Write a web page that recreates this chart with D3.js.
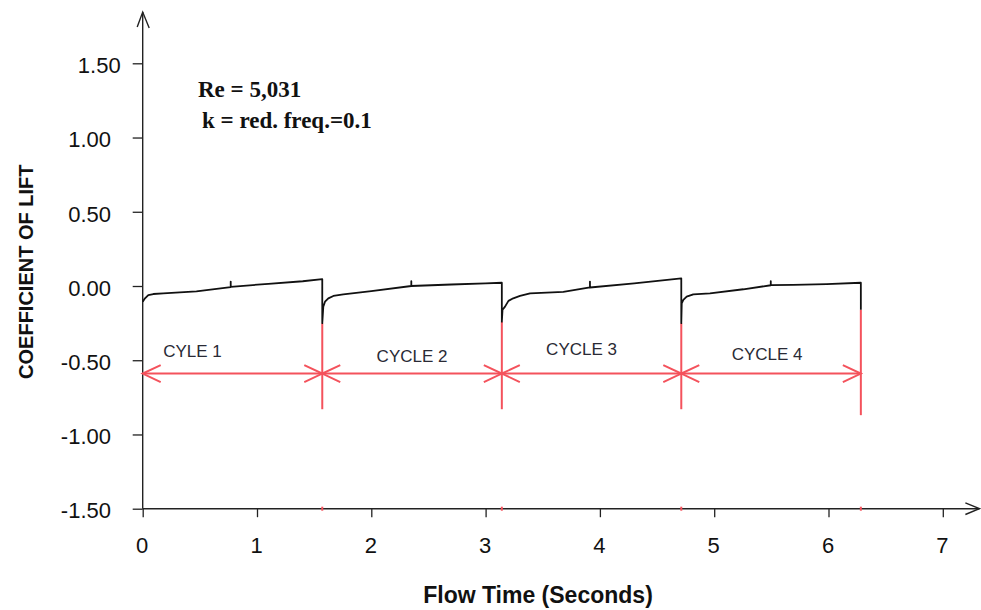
<!DOCTYPE html>
<html>
<head>
<meta charset="utf-8">
<script src="https://cdn.jsdelivr.net/npm/d3@7"></script>
<style>
  body { margin: 0; background: #fff; }
  svg { display: block; font-family: "Liberation Sans", Arial, sans-serif; }
</style>
</head>
<body>
<div id="chart"></div>
<script>
// values
var xTicks = [0, 1, 2, 3, 4, 5, 6, 7];
var xMinor = d3.range(0, 7.01, 0.25);
var yTicks = [-1.5, -1.0, -0.5, 0.0, 0.5, 1.0, 1.5];
var yMinor = d3.range(-1.5, 1.51, 0.25);

var cycleBounds = [0, 1.571, 3.142, 4.712, 6.283];
var cycleLabels = ["CYLE 1", "CYCLE 2", "CYCLE 3", "CYCLE 4"];
var dropBottom = [-0.25, -0.24, -0.25, -0.16];   // where the black curve ends at each boundary
var redBottom = [-0.83, -0.83, -0.83, -0.87];
var arrowLevel = -0.59;

var flowTime = [
  0, 0.02, 0.049, 0.093, 0.18, 0.47, 0.77, 0.77, 0.77, 1.1, 1.4, 1.571,
  1.571, 1.58, 1.595, 1.624, 1.668, 1.755, 2.0, 2.35, 2.35, 2.35, 2.7, 3.0, 3.142,
  3.142, 3.148, 3.17, 3.2, 3.242, 3.301, 3.389, 3.68, 3.913, 3.913, 3.913, 4.3, 4.712,
  4.712, 4.716, 4.73, 4.759, 4.817, 4.963, 5.255, 5.495, 5.495, 5.495, 5.692, 5.984, 6.283,
  6.283
];
var liftCoeff = [
  -0.106, -0.083, -0.061, -0.054, -0.049, -0.036, -0.007, 0.03, -0.006, 0.015, 0.032, 0.046,
  -0.25, -0.139, -0.106, -0.083, -0.067, -0.057, -0.035, 0.0, 0.032, 0.0, 0.01, 0.018, 0.022,
  -0.24, -0.16, -0.139, -0.10, -0.083, -0.067, -0.049, -0.04, -0.01, 0.03, -0.01, 0.017, 0.052,
  -0.25, -0.117, -0.094, -0.072, -0.056, -0.049, -0.022, 0.005, 0.032, 0.006, 0.007, 0.013, 0.022,
  -0.16
];

var width = 981, height = 610;
var red = "#f4525c";

var svg = d3.select("#chart").append("svg")
  .attr("width", width)
  .attr("height", height);

svg.append("rect").attr("width", width).attr("height", height).attr("fill", "#fff");

var x = d3.scaleLinear().domain([0, 7]).range([142.7, 942.8]);
var y = d3.scaleLinear().domain([-1.5, 1.5]).range([508.7, 63.3]);

// plain hyphen for negatives, like the original
var fmtY = d => d3.format(".2f")(d).replace("\u2212", "-");

// axes: minor ticks, then major ticks with labels
var gy = svg.append("g").attr("transform", "translate(" + x(0) + ",0)");
gy.call(d3.axisLeft(y).tickValues(yMinor).tickSize(7).tickFormat(""));
gy.call(d3.axisLeft(y).tickValues(yTicks).tickSize(10).tickPadding(21.7).tickFormat(fmtY));
gy.selectAll(".domain").remove();
gy.selectAll("text")
  .attr("dy", "0.42em")
  .style("font-size", "22px")
  .attr("fill", "#111")
  .attr("x", function(d) { return d === 1.5 ? -22 : -31.7; });

var gx = svg.append("g").attr("transform", "translate(0," + y(-1.5) + ")");
gx.call(d3.axisBottom(x).tickValues(xMinor).tickSize(5).tickFormat(""));
gx.call(d3.axisBottom(x).tickValues(xTicks).tickSize(8.5).tickPadding(20)
  .tickFormat(d3.format("d")));
gx.selectAll(".domain").remove();
gx.selectAll("text").style("font-size", "22px").attr("fill", "#111").attr("dx", "-1");
svg.selectAll(".tick line").attr("stroke", "#222").attr("stroke-width", 1.3);

// axis lines with open arrow heads
var axisG = svg.append("g").attr("stroke", "#222").attr("stroke-width", 1.4).attr("fill", "none");
axisG.append("line").attr("x1", x(0)).attr("x2", x(7.32)).attr("y1", y(-1.5)).attr("y2", y(-1.5));
axisG.append("line").attr("x1", x(0)).attr("x2", x(0)).attr("y1", y(-1.5)).attr("y2", y(1.845));
axisG.append("path")
  .attr("d", "M" + (x(7.32) - 14) + "," + (y(-1.5) - 5.8) + "L" + x(7.32) + "," + y(-1.5) +
             "L" + (x(7.32) - 14) + "," + (y(-1.5) + 5.8));
axisG.append("path")
  .attr("d", "M" + (x(0) - 5.5) + "," + (y(1.845) + 15) + "L" + x(0) + "," + y(1.845) +
             "L" + (x(0) + 6.5) + "," + (y(1.845) + 16));

// red cycle markers
var redG = svg.append("g").attr("stroke", red).attr("stroke-width", 2).attr("fill", "none");
redG.selectAll("line.vert")
  .data(cycleBounds.slice(1))
  .join("line")
  .attr("class", "vert")
  .attr("x1", d => x(d)).attr("x2", d => x(d))
  .attr("y1", (d, i) => y(dropBottom[i]))
  .attr("y2", (d, i) => y(redBottom[i]));
redG.selectAll("line.axmark")
  .data(cycleBounds.slice(1))
  .join("line")
  .attr("class", "axmark")
  .attr("x1", d => x(d)).attr("x2", d => x(d))
  .attr("y1", y(-1.5) - 2).attr("y2", y(-1.5) + 2);
redG.append("line")
  .attr("x1", x(cycleBounds[0])).attr("x2", x(cycleBounds[cycleBounds.length - 1]))
  .attr("y1", y(arrowLevel)).attr("y2", y(arrowLevel));

var headL = 18, headW = 8.5;
var cycles = d3.pairs(cycleBounds);
redG.selectAll("path.head")
  .data(cycles)
  .join("path")
  .attr("class", "head")
  .attr("d", function(d) {
    var a = x(d[0]), b = x(d[1]), yy = y(arrowLevel);
    return "M" + (a + headL) + "," + (yy - headW) + "L" + a + "," + yy + "L" + (a + headL) + "," + (yy + headW) +
           "M" + (b - headL) + "," + (yy - headW) + "L" + b + "," + yy + "L" + (b - headL) + "," + (yy + headW);
  });

// lift coefficient curve
var pts = flowTime.map((t, i) => [t, liftCoeff[i]]);
svg.append("path")
  .datum(pts)
  .attr("fill", "none")
  .attr("stroke", "#111")
  .attr("stroke-width", 1.8)
  .attr("stroke-linejoin", "round")
  .attr("d", d3.line().x(d => x(d[0])).y(d => y(d[1])));

// cycle labels (small nudges to follow the picture)
var labelDx = [-40, 0, -10, -4];
var labelDy = [-16.3, -12, -18.6, -13.6];
svg.selectAll("text.cycle")
  .data(cycles)
  .join("text")
  .attr("class", "cycle")
  .attr("x", (d, i) => x((d[0] + d[1]) / 2) + labelDx[i])
  .attr("y", (d, i) => y(arrowLevel) + labelDy[i])
  .attr("text-anchor", "middle")
  .style("font-size", "17px")
  .attr("fill", "#2a2a35")
  .text((d, i) => cycleLabels[i]);

// annotation
var note = svg.append("g")
  .style("font-family", "'Liberation Serif', 'Times New Roman', serif")
  .style("font-weight", "bold")
  .style("font-size", "23px")
  .attr("fill", "#111");
note.append("text").attr("x", 198).attr("y", 96.7).text("Re = 5,031");
note.append("text").attr("x", 202).attr("y", 128.3).text("k = red. freq.=0.1");

// axis titles
svg.append("text")
  .attr("x", 538).attr("y", 602.5)
  .attr("text-anchor", "middle")
  .style("font-size", "23px").style("font-weight", "bold")
  .attr("fill", "#111")
  .text("Flow Time (Seconds)");

svg.append("text")
  .attr("transform", "translate(33,271.7) rotate(-90)")
  .attr("text-anchor", "middle")
  .style("font-size", "20px").style("font-weight", "bold")
  .attr("fill", "#111")
  .text("COEFFICIENT OF LIFT");
</script>
</body>
</html>
